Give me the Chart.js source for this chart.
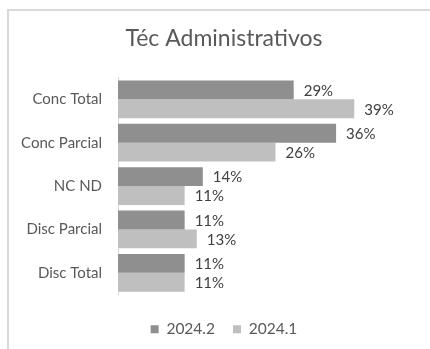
<!DOCTYPE html>
<html>
<head>
<meta charset="utf-8">
<script src="https://cdn.jsdelivr.net/npm/chart.js@4.4.1/dist/chart.umd.min.js"></script>
<style>
	html, body { margin: 0; padding: 0; background: #ffffff; overflow: hidden; }
	#wrap { position: relative; width: 430px; height: 349px; }
	#frame {
		position: absolute; left: 7px; top: 9px; width: 440px; height: 360px;
		border: 2px solid #d9d9d9; box-sizing: border-box;
	}
	#chart_canvas { position: absolute; left: 0; top: 0; }
</style>
</head>
<body>
<div id="wrap">
	<div id="frame"></div>
	<canvas id="chart_canvas" width="430" height="349"></canvas>
</div>
<script>
	'use strict';
	const categories	=	['Conc Total', 'Conc Parcial', 'NC ND', 'Disc Parcial', 'Disc Total'];
	const serie2024_2	=	[29, 36, 14, 11, 11];
	const serie2024_1	=	[39, 26, 11, 13, 11];
	const seriesNames	=	['2024.2', '2024.1'];

	const FONT = 'Lato, "Open Sans", sans-serif';

	// etiquetas de valor a la derecha de cada barra
	const barLabels = {
		id: 'barLabels',
		afterDatasetsDraw(chart) {
			const ctx = chart.ctx;
			ctx.save();
			ctx.font = '15px ' + FONT;
			ctx.fillStyle = '#404040';
			ctx.textAlign = 'left';
			ctx.textBaseline = 'middle';
			chart.data.datasets.forEach((ds, di) => {
				chart.getDatasetMeta(di).data.forEach((bar, i) => {
					ctx.fillText(ds.data[i] + '%', bar.x + 10, bar.y + 1);
				});
			});
			ctx.restore();
		}
	};

	const ctx = document.getElementById('chart_canvas').getContext('2d');
	const chart = new Chart(ctx, {
		type: 'bar',
		data: {
			labels: categories,
			datasets: [{
				label: seriesNames[0],
				data: serie2024_2,
				backgroundColor: '#8f8f8f',
				barPercentage: 1.0,
				categoryPercentage: 0.87
			}, {
				label: seriesNames[1],
				data: serie2024_1,
				backgroundColor: '#bfbfbf',
				barPercentage: 1.0,
				categoryPercentage: 0.87
			}]
		},
		options: {
			indexAxis: 'y',
			responsive: false,
			animation: false,
			layout: { padding: { left: 18, right: 0, top: 0, bottom: 2 } },
			plugins: {
				tooltip: { enabled: false },
				title: {
					display: true,
					text: 'Téc Administrativos',
					color: '#595959',
					font: { family: FONT, size: 23, weight: 'normal' },
					padding: { top: 25, bottom: 25 }
				},
				legend: {
					position: 'bottom',
					labels: {
						color: '#595959',
						font: { family: FONT, size: 15.5 },
						boxWidth: 8,
						boxHeight: 8,
						padding: 18
					}
				}
			},
			scales: {
				x: {
					min: 0,
					max: 51.5,
					grid: { display: false },
					border: { display: false },
					ticks: { display: false },
					afterFit: (s) => { s.height = 9; }
				},
				y: {
					grid: { display: false, drawTicks: false },
					border: { display: true, color: '#d9d9d9', width: 1 },
					ticks: {
						color: '#595959',
						font: { family: FONT, size: 15 },
						padding: 16
					},
					afterFit: (s) => { s.width = 100; }
				}
			}
		},
		plugins: [barLabels]
	});
</script>
</body>
</html>
